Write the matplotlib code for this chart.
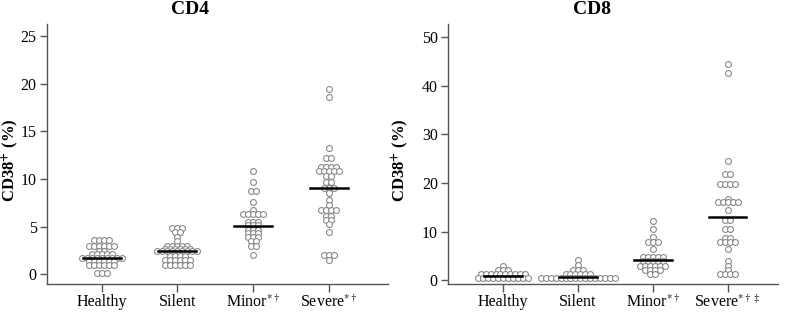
import numpy as np
import matplotlib.pyplot as plt

plt.rcParams['font.family'] = ['Liberation Serif', 'DejaVu Serif']
plt.rcParams['mathtext.fontset'] = 'stix'

groups = ['Healthy', 'Silent', 'Minor', 'Severe']

# CD4 values (value: count)
cd4_healthy = [3.6] * 4 + [3.0] * 6 + [2.5] * 2 + [2.1] * 5 + [1.7] * 9 + [1.4] * 6 + [1.0] * 6 + [0.2] * 3
cd4_silent = [4.9] * 3 + [4.4] * 2 + [3.9] * 1 + [3.5] * 1 + [3.0] * 5 + [2.7] * 6 + [2.5] * 9 + [2.2] * 4 + [1.9] * 4 + [1.5] * 6 + [1.0] * 6
cd4_minor = [10.8, 9.7, 8.7, 8.7, 7.6, 6.7] + [6.35] * 5 + [5.5] * 3 + [5.2] * 3 + [4.7] * 3 + [4.3] * 3 + [3.9] * 3 + [3.5] * 2 + [3.0] * 2 + [2.0]
cd4_severe = [19.4, 18.6, 13.3, 12.2, 12.2] + [11.3] * 4 + [10.8] * 5 + [10.3] * 2 + [9.7] * 2 + [9.1] * 3 + [8.5, 7.8, 7.3] + [6.7] * 4 + [6.1] * 2 + [5.75] * 2 + [5.3, 4.4] + [2.0] * 3 + [1.5]

# CD8 values
cd8_healthy = [2.9] + [2.1] * 3 + [1.37] * 10 + [0.5] * 11
cd8_silent = [4.1, 3.2] + [2.25] * 3 + [1.37] * 6 + [0.45] * 16
cd8_minor = [12.3, 10.6, 8.9] + [7.9] * 3 + [6.5] + [4.85] * 5 + [4.0] * 5 + [3.07] * 6 + [2.1] * 4 + [1.23] * 2
cd8_severe = [44.5, 42.6, 24.5, 21.8, 21.8] + [19.8] * 4 + [16.8] + [16.1] * 5 + [14.4] + [12.5] * 2 + [10.6] * 2 + [8.75] * 2 + [7.9] * 4 + [6.5, 4.0, 2.9, 2.1] + [1.23] * 4

cd4_medians = [1.7, 2.5, 5.1, 9.1]
cd8_medians = [1.0, 0.8, 4.3, 13.0]

cd4_labels = ['Healthy', 'Silent', r'Minor$^{*\dagger}$', r'Severe$^{*\dagger}$']
cd8_labels = ['Healthy', 'Silent', r'Minor$^{*\dagger}$', r'Severe$^{*\dagger\ddagger}$']

spine_col = '#555555'
dot_step = 0.066


def dot_offsets(vals):
    vals = np.asarray(vals)
    xs = np.zeros(len(vals))
    for v in np.unique(vals):
        idx = np.where(vals == v)[0]
        n = len(idx)
        xs[idx] = (np.arange(n) - (n - 1) / 2) * dot_step
    return xs


def panel(ax, data, medians, labels, ylim, yticks):
    for i, vals in enumerate(data):
        ax.scatter(i + dot_offsets(vals), vals, s=18, facecolors='white',
                   edgecolors='#8a8a8a', linewidths=0.8, zorder=2)
        ax.plot([i - 0.25, i + 0.25], [medians[i], medians[i]], color='black', lw=1.8, zorder=3)
    ax.set_xlim(-0.72, 3.78)
    ax.set_ylim(*ylim)
    ax.set_yticks(yticks)
    ax.set_xticks(range(4))
    ax.set_xticklabels(labels, fontsize=11.5)
    ax.tick_params(axis='y', labelsize=11.5, direction='out', length=5, color=spine_col, width=1, pad=2.5)
    ax.tick_params(axis='x', direction='out', length=6, color=spine_col, width=1, pad=1)
    for s in ['top', 'right']:
        ax.spines[s].set_visible(False)
    for s in ['left', 'bottom']:
        ax.spines[s].set_color(spine_col)
        ax.spines[s].set_linewidth(1)


fig = plt.figure(figsize=(7.85, 3.15), dpi=100)
ax1 = fig.add_axes([0.060, 0.097, 0.434, 0.827])
ax2 = fig.add_axes([0.571, 0.097, 0.420, 0.827])

panel(ax1, [cd4_healthy, cd4_silent, cd4_minor, cd4_severe], cd4_medians, cd4_labels,
      (-1.05, 26.25), [0, 5, 10, 15, 20, 25])
panel(ax2, [cd8_healthy, cd8_silent, cd8_minor, cd8_severe], cd8_medians, cd8_labels,
      (-0.82, 52.7), [0, 10, 20, 30, 40, 50])
ax2.set_xlim(-0.73, 3.67)

fig.text(190 / 785, 1 - 9 / 315, 'CD4', ha='center', va='center', fontsize=14, fontweight='bold')
fig.text(592 / 785, 1 - 9 / 315, 'CD8', ha='center', va='center', fontsize=14, fontweight='bold')
for x in [10, 400]:
    fig.text(x / 785, 1 - 160 / 315, r'CD38$^\mathbf{+}$ (%)', rotation=90, ha='center', va='center',
             fontsize=12, fontweight='bold')

fig.savefig('out.png', dpi=100)
